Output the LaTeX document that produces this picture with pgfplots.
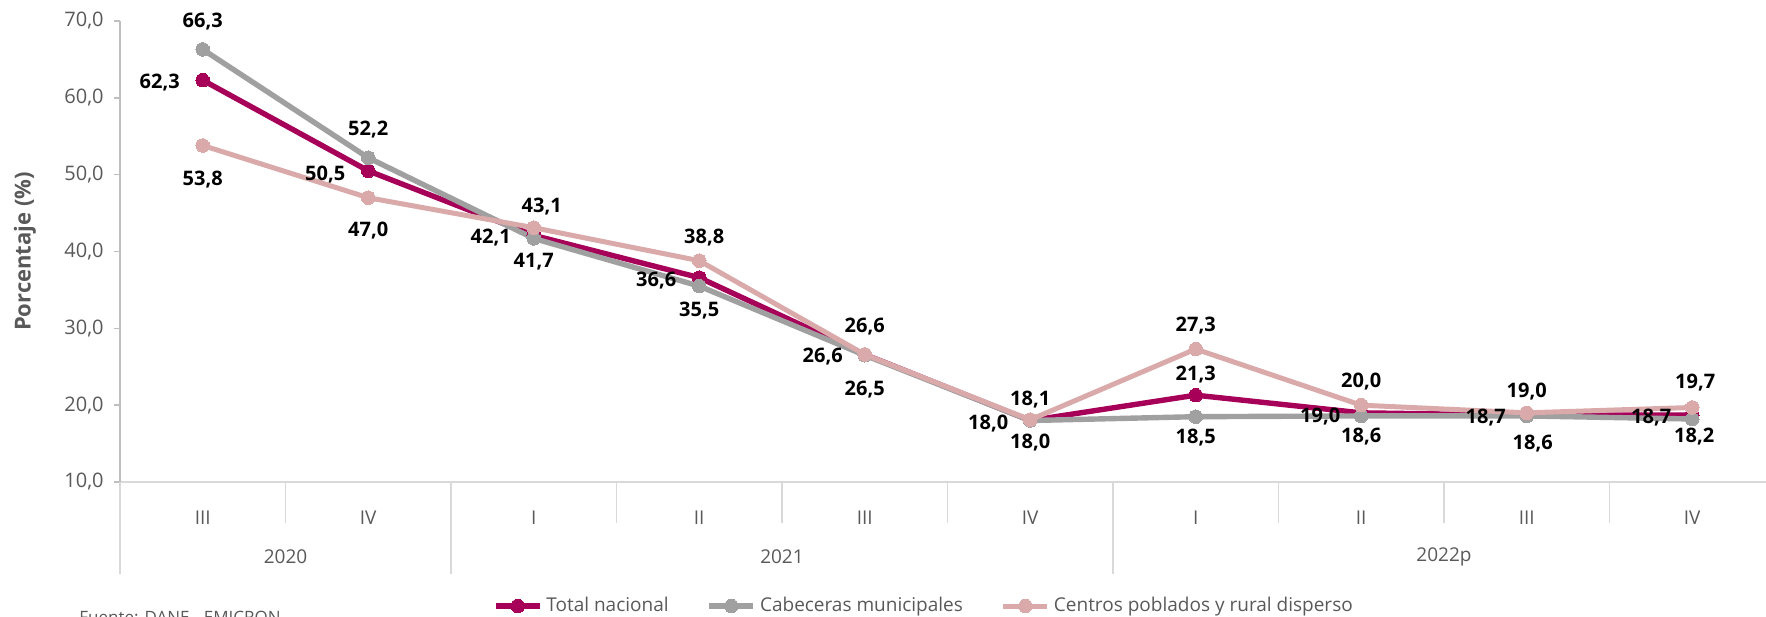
\documentclass[border=0pt]{standalone}
\usepackage{fontspec}
\setmainfont{Open Sans}
\usepackage{pgfplots}
\pgfplotsset{compat=1.18}
\usepackage{pgfplotstable}
\usetikzlibrary{calc}
\definecolor{totc}{RGB}{166,0,88}
\definecolor{cabc}{RGB}{160,160,160}
\definecolor{cenc}{RGB}{218,170,170}
\definecolor{gridc}{RGB}{217,217,217}
\definecolor{axc}{RGB}{191,191,191}
\definecolor{txtc}{RGB}{89,89,89}

\pgfplotstableread{
x y lab dx dy
0 62.3 62,3 -21.5 -1
1 50.5 50,5 -21.5 -1.7
2 42.1 42,1 -21.5 -1
3 36.6 36,6 -21.5 -1.5
4 26.6 26,6 -21 -1
5 18.0 18,0 -21 -1.5
6 21.3 21,3 0 10.5
7 19.0 19,0 -20.5 -2
8 18.7 18,7 -20.5 -1
9 18.7 18,7 -20.5 -1
}\tot
\pgfplotstableread{
x y lab dx dy
0 66.3 66,3 0 13.7
1 52.2 52,2 0 14
2 41.7 41,7 0 -11.7
3 35.5 35,5 0 -12
4 26.5 26,5 0 -17
5 18.0 18,0 0 -10.8
6 18.5 18,5 0 -10.3
7 18.6 18,6 0 -10.5
8 18.6 18,6 3 -13.7
9 18.2 18,2 1 -9
}\cab
\pgfplotstableread{
x y lab dx dy
0 53.8 53,8 0 -17
1 47.0 47,0 0 -16.3
2 43.1 43,1 4 10.5
3 38.8 38,8 2.5 11.5
4 26.6 26,6 0 14
5 18.1 18,1 0 10
6 27.3 27,3 0 12
7 20.0 20,0 0 12
8 19.0 19,0 0 10.5
9 19.7 19,7 1.5 12.5
}\cen

\begin{document}
\begin{tikzpicture}
\begin{axis}[
  at={(0,0)}, anchor=south west,
  scale only axis, width=823pt, height=230.5pt,
  xmin=-0.5, xmax=9.446, ymin=10, ymax=70,
  clip=false,
  axis x line*=bottom, axis y line*=left,
  x axis line style={draw=gridc, line width=1pt, -},
  y axis line style={draw=axc, line width=1pt, -},
  xtick={0,...,9},
  xticklabels={III,IV,I,II,III,IV,I,II,III,IV},
  xtick style={draw=none},
  xticklabel style={anchor=center, yshift=-15pt, font=\fontsize{9.5}{11}\selectfont, text=txtc},
  ytick={10,20,...,70},
  ytick style={draw=axc, line width=0.8pt},
  tick align=outside, major tick length=3pt,
  yticklabel style={anchor=east, inner sep=0pt, xshift=-5pt, font=\fontsize{10}{12}\selectfont, text=txtc},
  /pgf/number format/.cd, fixed, fixed zerofill, precision=1, use comma, assume math mode=true,
  /pgfplots/.cd,
  visualization depends on={\thisrow{dx} \as \mydx},
  visualization depends on={\thisrow{dy} \as \mydy},
  nodes near coords,
  point meta=explicit symbolic,
  every node near coord/.append style={anchor=center, xshift=\mydx pt, yshift=\mydy pt, font=\bfseries\fontsize{10}{12}\selectfont, text=black, inner sep=0pt},
  legend style={at={(0.489,-0.269)}, anchor=center, draw=none, fill=none, font=\fontsize{9.5}{11}\selectfont, text=txtc,
    /tikz/every even column/.append style={column sep=17pt}, inner sep=0pt},
  legend columns=3,
  legend image code/.code={\draw[mark repeat=2,mark phase=2,#1] plot coordinates {(0pt,0pt)(11pt,0pt)(22pt,0pt)};},
]
\addplot[totc, line width=2.7pt, line join=round, mark=*, mark size=3.4pt, mark options={solid, fill=totc, draw=totc, line width=0pt}] table[x=x,y=y,meta=lab]{\tot};
\addlegendentry{Total nacional}
\addplot[cabc, line width=2.7pt, line join=round, mark=*, mark size=3.4pt, mark options={solid, fill=cabc, draw=cabc, line width=0pt}] table[x=x,y=y,meta=lab]{\cab};
\addlegendentry{Cabeceras municipales}
\addplot[cenc, line width=2.5pt, line join=round, mark=*, mark size=3.4pt, mark options={solid, fill=cenc, draw=cenc, line width=0pt}] table[x=x,y=y,meta=lab]{\cen};
\addlegendentry{Centros poblados y rural disperso}

% category axis dividers
\pgfplotsinvokeforeach{0.5,2.5,3.5,4.5,6.5,7.5,8.5}{
  \draw[gridc, line width=0.8pt] (axis cs:#1,10) -- ($(axis cs:#1,10)+(0pt,-20.5pt)$);
}
\pgfplotsinvokeforeach{-0.5,1.5,5.5}{
  \draw[gridc, line width=0.8pt] (axis cs:#1,10) -- ($(axis cs:#1,10)+(0pt,-46pt)$);
}
\node[font=\fontsize{9.5}{11}\selectfont, text=txtc] at ($(axis cs:0.5,10)+(0pt,-37.5pt)$) {2020};
\node[font=\fontsize{9.5}{11}\selectfont, text=txtc] at ($(axis cs:3.5,10)+(0pt,-37.5pt)$) {2021};
\node[font=\fontsize{9.5}{11}\selectfont, text=txtc] at ($(axis cs:7.5,10)+(0pt,-37.5pt)$) {2022p};
\node[rotate=90, font=\bfseries\fontsize{11}{13}\selectfont, text=txtc] at ($(rel axis cs:0,0.5)+(-47.5pt,0pt)$) {Porcentaje (\%)};
\node[anchor=north west, inner sep=0pt, font=\fontsize{8.5}{10}\selectfont, text=txtc] at ($(rel axis cs:0,0)+(-20.5pt,-64.5pt)$) {Fuente: DANE - EMICRON};
\end{axis}
\pgfresetboundingbox
\useasboundingbox (-60pt,-67pt) rectangle (823pt,241pt);
\end{tikzpicture}
\end{document}
